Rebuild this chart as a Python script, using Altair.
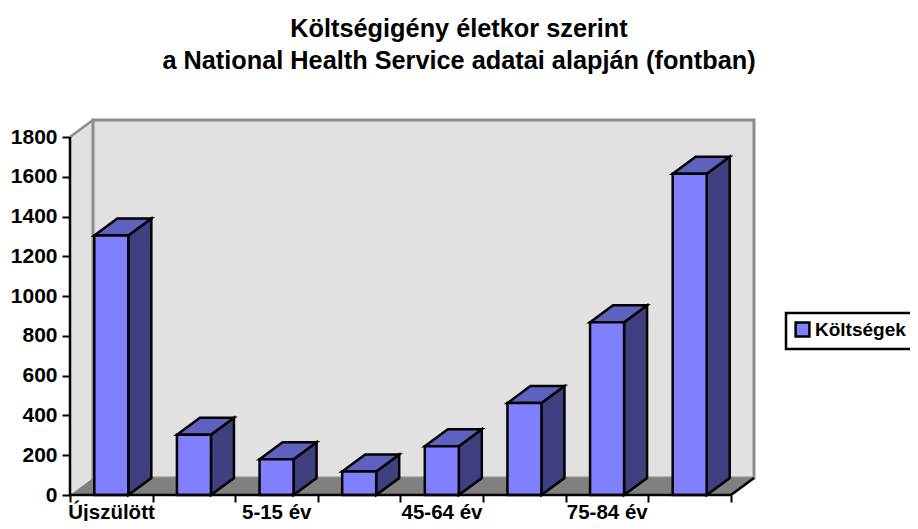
import altair as alt
import pandas as pd
import json

title_lines = ["Költségigény életkor szerint", "a National Health Service adatai alapján (fontban)"]
categories = ["Újszülött", "", "5-15 év", "", "45-64 év", "", "75-84 év", ""]
values = [1305, 303, 180, 118, 245, 462, 868, 1615]
series_name = "Költségek"
y_ticks = [0, 200, 400, 600, 800, 1000, 1200, 1400, 1600, 1800]

FONT = "Liberation Sans"
W, H = 684, 375
N = len(values)
DX = 23 / 82.6          # depth of the 3D box, in category units
DY = 17 / (358 / 1800)  # depth of the 3D box, in value units
BW = 34 / 82.6          # bar width, in category units
YMAX = 1800
xs = alt.Scale(domain=[0, N + DX], nice=False, zero=False)
ys = alt.Scale(domain=[0, YMAX + DY], nice=False, zero=False)

front, side, top = [], [], []
for i, (c, v) in enumerate(zip(categories, values)):
    x0 = i + 0.5 - BW / 2
    x1 = x0 + BW
    front.append(dict(k=i, x=x0, x2=x1, y=v, y2=0, s=series_name))
    side += [dict(k=i, x=x1, y=v, y2=0), dict(k=i, x=x1 + DX, y=v + DY, y2=DY)]
    top += [dict(k=i, x=x0, y=v, y2=v), dict(k=i, x=x0 + DX, y=v + DY, y2=v),
            dict(k=i, x=x1, y=v + DY, y2=v), dict(k=i, x=x1 + DX, y=v + DY, y2=v + DY)]

label_js = json.dumps(categories, ensure_ascii=False)
x_axis = alt.Axis(
    values=list(range(N + 1)), domain=False, grid=False, tickColor="black", tickWidth=2, tickSize=7,
    labelExpr=f"{label_js}[datum.value] || ''", labelOffset=41, labelAngle=0, labelFont=FONT,
    labelFontWeight="bold", labelFontSize=20.5, labelColor="black", labelPadding=0, labelOverlap=False,
    labelBound=False, labelFlush=False, title=None)
y_axis = alt.Axis(
    values=y_ticks, format="d", domain=False, grid=False, tickColor="black", tickWidth=2, tickSize=8,
    labelFont=FONT, labelFontWeight="bold", labelFontSize=21, labelColor="black", labelPadding=5,
    labelOverlap=False, labelBound=False, labelFlush=False, title=None)

X = lambda f="x": alt.X(f"{f}:Q", scale=xs, axis=x_axis)
Y = lambda f="y": alt.Y(f"{f}:Q", scale=ys, axis=y_axis, stack=None)


def area(rows, fill, stroke=None, sw=0):
    kw = dict(fill=fill, strokeWidth=sw, strokeJoin="miter")
    if stroke:
        kw["stroke"] = stroke
    return alt.Chart(pd.DataFrame(rows)).mark_area(**kw).encode(x=X(), y=Y(), y2="y2:Q")


def seg(x1, y1, x2, y2, color, sw):
    return alt.Chart(pd.DataFrame([dict(x=x1, y=y1), dict(x=x2, y=y2)])).mark_line(
        color=color, strokeWidth=sw).encode(x=X(), y=Y())


wall_back = area([dict(x=DX, y=YMAX + DY, y2=DY), dict(x=N + DX, y=YMAX + DY, y2=DY)], "#E1E1E1", "#8C8C8C", 3)
wall_left = area([dict(x=0, y=YMAX, y2=0), dict(x=DX, y=YMAX + DY, y2=DY)], "#E1E1E1")
floor = area([dict(x=0, y=0, y2=0), dict(x=DX, y=DY, y2=0), dict(x=N, y=DY, y2=0), dict(x=N + DX, y=DY, y2=DY)], "#808080")
wall_edge = seg(0, YMAX, DX, YMAX + DY, "#8C8C8C", 2.5)
floor_edge = seg(N, 0, N + DX, DY, "black", 2.5)

sides = area(side, "#404080", "black", 2.5).encode(detail="k:N")
tops = area(top, "#6060C0", "black", 2.5).encode(detail="k:N")
fronts = alt.Chart(pd.DataFrame(front)).mark_bar(stroke="black", strokeWidth=2.5).encode(
    x=X(), x2="x2:Q", y=Y(), y2="y2:Q",
    color=alt.Color("s:N", scale=alt.Scale(range=["#8080FF"]), legend=alt.Legend(
        title=None, orient="none", legendX=716, legendY=193, symbolType="square", symbolSize=190,
        symbolStrokeColor="black", symbolStrokeWidth=2.5, symbolOpacity=1, strokeColor="black",
        fillColor="white", padding=7, labelFont=FONT, labelFontWeight="bold", labelFontSize=19,
        labelColor="black", labelOffset=3)),
)

axis_y = seg(0, 0, 0, YMAX, "black", 2.5)
axis_x = seg(0, 0, N, 0, "black", 2.5)

chart = alt.layer(
    wall_left, wall_back, floor, wall_edge, floor_edge, sides, tops, fronts, axis_y, axis_x
).properties(
    width=W, height=H,
    autosize=alt.AutoSizeParams(type="none"),
    padding={"left": 62, "top": 112, "right": 156, "bottom": 26},
    title=alt.TitleParams(text=title_lines, font=FONT, fontWeight="bold", fontSize=25.3, color="black",
                          anchor="middle", dx=47, offset=40, lineHeight=32),
).configure_view(stroke=None).configure_legend(strokeWidth=2.5)

chart.save("out.html", embed_options={"renderer": "svg", "actions": False})
